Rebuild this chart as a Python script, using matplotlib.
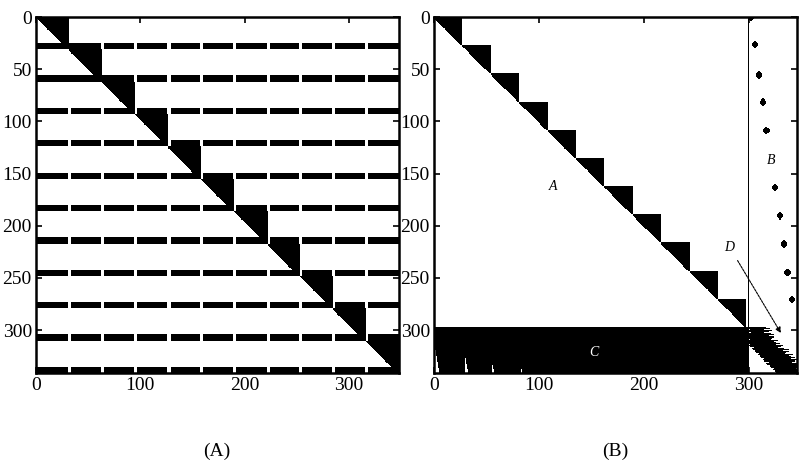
import numpy as np
import matplotlib.pyplot as plt

plt.rcParams['font.family'] = ['Liberation Serif', 'DejaVu Serif']

# ---- panel (A): 11 upper-triangular diagonal blocks + coupling rows ----
a_row_edges = [0, 31, 62, 93, 124, 155, 186, 217, 248, 279, 310, 341]
a_col_edges = [0, 32, 63, 95, 127, 158, 190, 222, 253, 285, 316, 348]
a_band_rows = 6      # dense rows at the end of every block
a_gap = 3            # missing columns around block boundaries in those rows

# ---- panel (B): bordered block structure ----
b_edges = [0, 27, 54, 81, 108, 135, 162, 189, 216, 243, 270, 297]
b_nrows, b_ncols = 341, 346
b_border_col = 298
b_dot_rows = [0, 26, 55, 81, 108, 163, 190, 217, 244, 270]
b_dot_cols = [301, 305, 309, 313, 316, 324, 329, 333, 336, 340]
c_wedge_cols = [1, 29, 55, 83]
c_wedge_top = [319, 327, 333, 337]
c_wedge_width = [4, 3, 2, 1]
d_rows = [297, 303, 308, 313, 318, 323, 328, 333, 337, 341]
d_lo = [298, 298, 298, 298, 303, 308, 313, 318, 322, 326]
d_hi = [316, 318, 322, 327, 332, 337, 342, 346, 346, 346]
d_jag = [0, 3, -2, 4, 1, -3, 2, 5, -1, 3, 0, -2, 4, -1]

xticks = [0, 100, 200, 300]
yticks = [0, 50, 100, 150, 200, 250, 300]

# build matrix A
na_r, na_c = a_row_edges[-1], a_col_edges[-1]
A = np.zeros((na_r, na_c), bool)
for k in range(len(a_row_edges) - 1):
    r0, r1 = a_row_edges[k], a_row_edges[k + 1]
    c0, c1 = a_col_edges[k], a_col_edges[k + 1]
    rr, cc = np.mgrid[r0:r1, c0:c1]
    A[r0:r1, c0:c1] = (cc - c0 + 1) / (c1 - c0) >= (rr - r0) / (r1 - r0)
    band = np.ones(na_c, bool)
    for e in a_col_edges[1:-1]:
        if k < 2 and e <= c1:
            continue
        band[e - 1:e - 1 + a_gap] = False
    A[r1 - a_band_rows:r1] |= band

# build matrix B
B = np.zeros((b_nrows, b_ncols), bool)
for k in range(len(b_edges) - 1):
    e0, e1 = b_edges[k], b_edges[k + 1]
    rr, cc = np.mgrid[e0:e1, e0:e1]
    B[e0:e1, e0:e1] = (cc - e0 + 1) >= (rr - e0)
B[:, b_border_col] = True
dy, dx = np.mgrid[-3:4, -3:3]
blob = (dy / 3.2) ** 2 + ((dx + 0.5) / 2.8) ** 2 <= 1
for r, c in zip(b_dot_rows, b_dot_cols):
    for (i, j) in zip(*np.nonzero(blob)):
        rr_, cc_ = r + i - 3, c + j - 3
        if 0 <= rr_ < b_nrows:
            B[rr_, cc_] = True
# C: coupling rows
ctop = b_edges[-1]
B[ctop:, :b_border_col] = True
for c, t, w in zip(c_wedge_cols, c_wedge_top, c_wedge_width):
    for r in range(t, b_nrows):
        ww = 1 + int(w * (r - t) / (b_nrows - t))
        B[r, c:c + ww] = False
# D: corner block, jagged band
for i, r in enumerate(range(ctop, b_nrows)):
    lo = np.interp(r, d_rows, d_lo)
    hi = np.interp(r, d_rows, d_hi)
    j = d_jag[i % len(d_jag)]
    lo = int(max(b_border_col, lo - (j if j < 0 else 0)))
    hi = int(min(b_ncols, hi + j))
    B[r, lo:hi] = True

fig = plt.figure(figsize=(8.02, 4.74), dpi=100)
axA = fig.add_axes([36 / 802, 1 - 373 / 474, 363 / 802, 356 / 474])
axB = fig.add_axes([434 / 802, 1 - 373 / 474, 363 / 802, 356 / 474])

for ax, M in ((axA, A), (axB, B)):
    nr, nc = M.shape
    ax.imshow(M, cmap='gray_r', interpolation='nearest', aspect='auto',
              extent=(0, nc, nr, 0), vmin=0, vmax=1)
    ax.set_xlim(0, nc)
    ax.set_ylim(nr, 0)
    ax.set_xticks(xticks)
    ax.set_yticks(yticks)
    ax.tick_params(direction='in', top=True, right=True, length=4, width=1.2,
                   labelsize=14, pad=3)
    for s in ax.spines.values():
        s.set_linewidth(1.8)

axB.text(113, 162, 'A', style='italic', fontsize=10, ha='center', va='center')
axB.text(321, 137, 'B', style='italic', fontsize=10, ha='center', va='center')
axB.text(152, 321, 'C', style='italic', fontsize=10, ha='center', va='center',
         color='white')
axB.text(281, 221, 'D', style='italic', fontsize=10, ha='center', va='center')
axB.annotate('', xy=(332, 305), xytext=(288, 231),
             arrowprops=dict(arrowstyle='-|>', lw=0.8, linestyle=(0, (2, 1)),
                             color='black', mutation_scale=8))

fig.text(217 / 802, 1 - 451 / 474, '(A)', ha='center', va='center', fontsize=14)
fig.text(615 / 802, 1 - 451 / 474, '(B)', ha='center', va='center', fontsize=14)

fig.savefig('out.png', dpi=100)
